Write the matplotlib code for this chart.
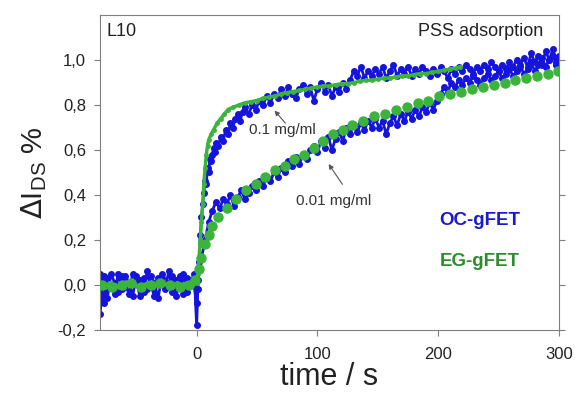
import numpy as np
import matplotlib.pyplot as plt
from matplotlib.ticker import FixedLocator, FixedFormatter

plt.rcParams['font.family'] = ['Liberation Sans', 'DejaVu Sans']

# ---- data ----
# baseline before PSS injection (t <= 0)
t_base = [-80, -77, -74, -71, -68, -65, -62, -59, -56, -53,
          -50, -47, -44, -41, -38, -35, -32, -29, -26, -23,
          -20, -17, -14, -11, -8, -5, -2, 0]
oc_fast_base = [-0.13, 0.04, -0.06, 0.05, 0.01, -0.03, 0.04, 0.00, -0.04, 0.05,
                0.02, -0.05, 0.03, -0.02, 0.04, 0.01, -0.06, 0.03, -0.01, 0.06,
                -0.03, 0.02, 0.04, -0.04, 0.03, 0.01, 0.05, -0.18]
oc_slow_base = [0.05, -0.08, 0.03, 0.00, -0.04, 0.05, -0.02, 0.04, 0.01, -0.05,
                0.04, 0.02, -0.03, 0.06, 0.00, -0.05, 0.03, 0.05, -0.02, 0.01,
                0.04, -0.05, 0.02, 0.05, -0.03, 0.02, 0.00, -0.08]

# OC-gFET, 0.1 mg/ml
t_oc_fast = [1, 2, 3, 4, 5, 6, 7, 8, 9, 10,
             11, 12, 13, 14, 15, 16, 18, 20, 22, 24,
             26, 28, 30, 32, 34, 36, 38, 40, 43, 46,
             49, 52, 55, 58, 61, 64, 67, 70, 73, 76,
             79, 82, 85, 88, 91, 94, 97, 100, 103, 106,
             109, 112, 115, 118, 121, 124, 127, 130, 133, 136,
             139, 142, 145, 148, 151, 154, 157, 160, 163, 166,
             169, 172, 175, 178, 181, 184, 187, 190, 193, 196,
             199, 202, 205, 208, 211, 214, 217, 220, 223, 226,
             229, 232, 235, 238, 241, 244, 247, 250, 253, 256,
             259, 262, 265, 268, 271, 274, 277, 280, 283, 286,
             289, 292, 295, 298, 300]
oc_fast = [-0.02, 0.10, 0.22, 0.30, 0.36, 0.41, 0.46, 0.45, 0.52, 0.50,
           0.56, 0.55, 0.58, 0.61, 0.59, 0.63, 0.62, 0.66, 0.64, 0.69,
           0.67, 0.72, 0.70, 0.74, 0.76, 0.73, 0.77, 0.79, 0.76, 0.80,
           0.78, 0.82, 0.80, 0.84, 0.81, 0.85, 0.83, 0.87, 0.84, 0.88,
           0.85, 0.83, 0.87, 0.89, 0.85, 0.88, 0.82, 0.87, 0.90, 0.86,
           0.89, 0.84, 0.88, 0.86, 0.90, 0.87, 0.91, 0.95, 0.93, 0.97,
           0.92, 0.95, 0.93, 0.96, 0.94, 0.97, 0.92, 0.95, 0.98, 0.93,
           0.96, 0.94, 0.97, 0.93, 0.96, 0.94, 0.97, 0.95, 0.93, 0.96,
           0.94, 0.97, 0.95, 0.92, 0.96, 0.94, 0.97, 0.95, 0.98, 0.96,
           0.94, 0.97, 0.95, 0.98, 0.96, 0.99, 0.97, 0.95, 0.98, 0.96,
           0.99, 0.97, 1.00, 0.98, 1.01, 0.97, 1.03, 0.99, 1.02, 0.98,
           1.04, 1.00, 1.02, 0.98, 1.01]

# OC-gFET, 0.01 mg/ml
t_oc_slow = [1, 4, 7, 10, 13, 16, 19, 22, 25, 28,
             31, 34, 37, 40, 43, 46, 49, 52, 55, 58,
             61, 64, 67, 70, 73, 76, 79, 82, 85, 88,
             91, 94, 97, 100, 103, 106, 109, 112, 115, 118,
             121, 124, 127, 130, 133, 136, 139, 142, 145, 148,
             151, 154, 157, 160, 163, 166, 169, 172, 175, 178,
             181, 184, 187, 190, 193, 196, 199, 202, 205, 208,
             211, 214, 217, 220, 223, 226, 229, 232, 235, 238,
             241, 244, 247, 250, 253, 256, 259, 262, 265, 268,
             271, 274, 277, 280, 283, 286, 289, 292, 295, 298, 300]
oc_slow = [0.02, 0.12, 0.20, 0.28, 0.33, 0.37, 0.34, 0.38, 0.36, 0.40,
           0.35, 0.39, 0.42, 0.38, 0.41, 0.44, 0.42, 0.46, 0.44, 0.48,
           0.46, 0.50, 0.48, 0.52, 0.50, 0.55, 0.53, 0.57, 0.54, 0.58,
           0.56, 0.60, 0.62, 0.59, 0.64, 0.61, 0.66, 0.60, 0.65, 0.68,
           0.64, 0.70, 0.67, 0.71, 0.68, 0.72, 0.69, 0.73, 0.70, 0.74,
           0.70, 0.73, 0.67, 0.72, 0.75, 0.71, 0.76, 0.73, 0.77, 0.74,
           0.78, 0.75, 0.79, 0.77, 0.81, 0.78, 0.82, 0.85, 0.88, 0.86,
           0.90, 0.88, 0.91, 0.89, 0.92, 0.90, 0.93, 0.91, 0.89, 0.92,
           0.94, 0.91, 0.93, 0.95, 0.92, 0.94, 0.96, 0.93, 0.95, 0.97,
           0.94, 0.96, 0.99, 0.95, 0.98, 1.01, 0.97, 1.00, 1.05, 0.99, 1.02]

# EG-gFET, 0.1 mg/ml
t_eg_fast = [-80, -76, -72, -68, -64, -60, -56, -52, -48, -44,
             -40, -36, -32, -28, -24, -20, -16, -12, -8, -4,
             0, 1, 2, 3, 4, 5, 6, 7, 8, 9,
             10, 12, 14, 17, 20, 23, 26, 30, 35, 40,
             45, 50, 55, 60, 65, 70, 75, 80, 85, 90,
             95, 100, 105, 110, 115, 120, 125, 130, 135, 140,
             145, 150, 155, 160, 165, 170, 175, 180, 185, 190,
             195, 200, 205, 210, 215, 218]
eg_fast = [0.00, -0.01, 0.01, 0.00, -0.01, 0.01, 0.00, 0.01, -0.01, 0.00,
           0.01, -0.01, 0.00, 0.01, 0.00, -0.01, 0.01, 0.00, 0.01, 0.00,
           0.01, 0.05, 0.12, 0.20, 0.28, 0.36, 0.45, 0.52, 0.58, 0.62,
           0.645, 0.67, 0.69, 0.72, 0.74, 0.76, 0.78, 0.79, 0.80, 0.81,
           0.815, 0.82, 0.83, 0.835, 0.84, 0.85, 0.855, 0.86, 0.865, 0.87,
           0.875, 0.88, 0.885, 0.885, 0.89, 0.895, 0.895, 0.90, 0.905, 0.91,
           0.91, 0.915, 0.92, 0.92, 0.925, 0.93, 0.93, 0.935, 0.94, 0.94,
           0.945, 0.95, 0.955, 0.96, 0.965, 0.97]

# EG-gFET, 0.01 mg/ml
t_eg_slow = [-78, -70, -62, -54, -46, -38, -30, -22, -14, -6,
             -1, 2, 4, 7, 10, 13, 18, 25, 33, 41,
             49, 57, 65, 73, 81, 89, 97, 105, 113, 121,
             129, 138, 147, 156, 165, 174, 183, 192, 201, 210,
             219, 228, 237, 246, 255, 264, 273, 282, 291, 299]
eg_slow = [0.00, -0.01, 0.00, 0.01, -0.01, 0.00, 0.01, 0.00, -0.01, 0.00,
           0.02, 0.07, 0.12, 0.18, 0.22, 0.26, 0.30, 0.34, 0.38, 0.42,
           0.45, 0.48, 0.51, 0.53, 0.56, 0.58, 0.61, 0.64, 0.67, 0.69,
           0.71, 0.73, 0.75, 0.76, 0.78, 0.79, 0.81, 0.82, 0.84, 0.85,
           0.86, 0.87, 0.88, 0.89, 0.90, 0.91, 0.92, 0.93, 0.94, 0.95]

yticks = [-0.2, 0.0, 0.2, 0.4, 0.6, 0.8, 1.0]
ytick_labels = ['-0,2', '0,0', '0,2', '0,4', '0,6', '0,8', '1,0']
xticks = [0, 100, 200, 300]

blue = '#1414dc'
green = '#3cb43c'
gray = '#7f7f7f'

fig = plt.figure(figsize=(5.75, 3.97), dpi=100)
ax = fig.add_axes([0.174, 0.169, 0.798, 0.793])

ax.plot(t_base + t_oc_slow, oc_slow_base + oc_slow, '-o', color=blue, lw=2, ms=4, zorder=2)
ax.plot(t_base + t_oc_fast, oc_fast_base + oc_fast, '-o', color=blue, lw=2, ms=4, zorder=2)
ax.plot(t_eg_fast, eg_fast, '-o', color=green, lw=2.5, ms=2.5, zorder=3)
ax.plot(t_eg_slow, eg_slow, 'o', color=green, ms=6.5, zorder=4)

ax.set_xlim(-80, 300)
ax.set_ylim(-0.2, 1.2)
ax.xaxis.set_major_locator(FixedLocator(xticks))
ax.yaxis.set_major_locator(FixedLocator(yticks))
ax.yaxis.set_major_formatter(FixedFormatter(ytick_labels))
ax.tick_params(direction='out', length=4, color=gray, labelsize=12, right=True, labelcolor='#222222')
ax.tick_params(axis='x', pad=8)
ax.tick_params(axis='y', pad=6)
for s in ax.spines.values():
    s.set_color(gray)

ax.set_xlabel('time / s', fontsize=22, color='#222222', labelpad=0)
ax.set_ylabel(r'$\Delta$I$_{\mathregular{DS}}$ %', fontsize=21, color='#222222', labelpad=6)

ax.text(0.015, 0.949, 'L10', transform=ax.transAxes, fontsize=13, va='center', ha='left', color='#222222')
ax.text(0.965, 0.949, 'PSS adsorption', transform=ax.transAxes, fontsize=13, va='center', ha='right', color='#222222')
ax.text(0.828, 0.349, 'OC-gFET', transform=ax.transAxes, fontsize=13.5, fontweight='bold', color='#1a1ad0', ha='center', va='center')
ax.text(0.828, 0.217, 'EG-gFET', transform=ax.transAxes, fontsize=13.5, fontweight='bold', color='#2e8b2e', ha='center', va='center')

arrow = dict(arrowstyle='-|>', color='#555555', lw=0.8, mutation_scale=7)
ax.annotate('', xy=(63, 0.785), xytext=(75, 0.71), arrowprops=arrow)
ax.text(71, 0.689, '0.1 mg/ml', fontsize=11, ha='center', va='center', color='#333333')
ax.annotate('', xy=(108, 0.548), xytext=(122, 0.437), arrowprops=arrow)
ax.text(113.5, 0.375, '0.01 mg/ml', fontsize=11, ha='center', va='center', color='#333333')

fig.savefig('out.png', dpi=100)
